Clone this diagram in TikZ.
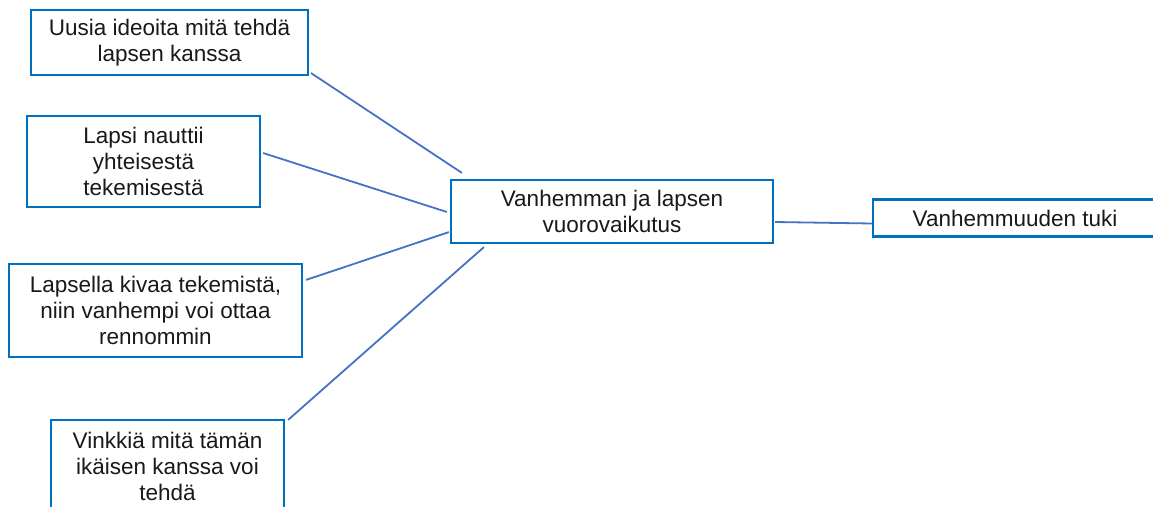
\documentclass[tikz,border=0pt]{standalone}
\usepackage{fontspec}
\setmainfont{Liberation Sans}
\usetikzlibrary{calc}
\definecolor{boxblue}{HTML}{0070C0}
\definecolor{lineblue}{HTML}{4472C4}
\begin{document}
\begin{tikzpicture}[x=1pt,y=-1pt,
  box/.style={draw=boxblue,line width=2.2pt,fill=white,align=center,inner sep=0pt,
    font=\fontsize{22.5}{26}\selectfont,text=black!90},
  link/.style={draw=lineblue,line width=1.8pt}]
\useasboundingbox (0,0) rectangle (1153,506);
\begin{scope}
\clip (0,0) rectangle (1153,506);
\node[box,minimum width=277pt,minimum height=65pt] (b1) at (169.5,42.5) {Uusia ideoita mitä tehdä\\lapsen kanssa};
\node[box,minimum width=233pt,minimum height=91pt] (b2) at (143.5,161.5) {Lapsi nauttii\\yhteisestä\\tekemisestä};
\node[box,minimum width=293pt,minimum height=93pt] (b3) at (155.5,310.5) {Lapsella kivaa tekemistä,\\niin vanhempi voi ottaa\\rennommin};
\node[box,minimum width=233pt,minimum height=93pt] (b4) at (167.5,466.5) {Vinkkiä mitä tämän\\ikäisen kanssa voi\\tehdä};
\node[box,minimum width=322pt,minimum height=63pt] (c) at (612,211.5) {Vanhemman ja lapsen\\vuorovaikutus};
\node[box,minimum width=284pt,minimum height=37pt] (r) at (1015,218) {Vanhemmuuden tuki};
\draw[link] ($(b1.south east)+(2,-3)$) -- ($(c.north west)+(12,-6)$);
\draw[link] ($(b2.east)+(2,-8.5)$) -- ($(c.west)+(-3,0.5)$);
\draw[link] ($(b3.north east)+(3,17)$) -- ($(c.south west)+(-1,-12)$);
\draw[link] ($(b4.north east)+(3,1)$) -- ($(c.south west)+(34,3)$);
\draw[link] ($(c.east)+(1,10.5)$) -- ($(r.west)+(0,5.5)$);
\end{scope}
\end{tikzpicture}
\end{document}
